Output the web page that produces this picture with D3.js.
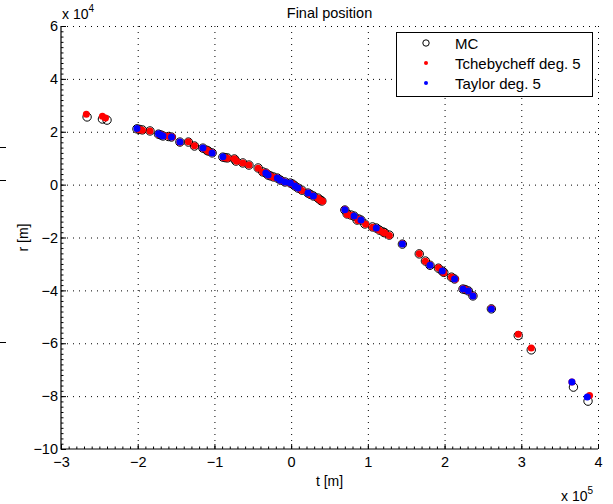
<!DOCTYPE html>
<html>
<head>
<meta charset="utf-8">
<script src="https://cdn.jsdelivr.net/npm/d3@7"></script>
<style>
	body { margin: 0; background: #fff; }
	svg text { font-family: "Liberation Sans", Arial, sans-serif; fill: #000; }
</style>
</head>
<body>
<div id="chart"></div>
<script>
"use strict";

// Final position scatter: MC samples vs polynomial approximations

var xTicks = [-3, -2, -1, 0, 1, 2, 3, 4];   // x 10^5
var yTicks = [-10, -8, -6, -4, -2, 0, 2, 4, 6]; // x 10^4

var seriesNames = ["MC", "Tchebycheff deg. 5", "Taylor deg. 5"];

// MC samples [m]
var mcT = [-266000, -246000, -240000, -201000, -198000, -194000, -184000, -173000, -170000, -167000, -160000, -156000,
	-145000, -134000, -126000, -115000, -110000, -108000, -103000, -89000, -86000, -83000, -74000, -72000, -63000,
	-55000, -43000, -37000, -33000, -30000, -27000, -23000, -18000, -14000, -8000, -1000, 2000, 5000, 9000, 14000,
	22000, 25000, 29000, 35000, 38000, 40000, 70000, 73000, 78000, 82000, 86000, 88000, 91000, 96000, 106000,
	111000, 115000, 120000, 122000, 128000, 145000, 167000, 175000, 181000, 192000, 197000, 199000, 209000, 213000,
	224000, 227000, 231000, 237000, 261000, 296000, 313000, 368000, 387000];
var mcR = [25600, 24800, 24400, 21100, 20900, 20700, 20300, 19100, 18800, 18400, 18200, 18000,
	16100, 16100, 14600, 13800, 13000, 12700, 12000, 10400, 10200, 10100, 9700, 8900, 8200,
	7400, 6300, 4800, 4400, 3600, 3300, 2900, 2500, 1700, 1000, 600, 200, -500, -1300, -2100,
	-3200, -3700, -4300, -5100, -5800, -6200, -9600, -11100, -11500, -11900, -13400, -13000, -13400, -14900, -16000,
	-16400, -17200, -17900, -18200, -19100, -22500, -26200, -28900, -30500, -31600, -32700, -33200, -35000, -35700,
	-39500, -39700, -40200, -42100, -47000, -57100, -62500, -76600, -81900];

// Tchebycheff deg. 5 [m]
var tchT = [-267000, -246000, -242000, -200000, -197000, -194000, -184000, -172000, -170000, -166000, -160000, -155000,
	-145000, -134000, -126000, -115000, -110000, -108000, -103000, -88000, -86000, -83000, -74000, -71000, -63000,
	-55000, -43000, -37000, -32000, -30000, -27000, -23000, -18000, -13000, -8000, -1000, 2000, 5000, 9000, 14000,
	22000, 25000, 29000, 35000, 38000, 41000, 70000, 73000, 78000, 82000, 87000, 88000, 91000, 97000, 106000,
	111000, 115000, 120000, 122000, 128000, 145000, 167000, 175000, 181000, 192000, 197000, 199000, 209000, 214000,
	224000, 227000, 231000, 237000, 261000, 296000, 313000, 366000, 389000];
var tchR = [26600, 25900, 25200, 21000, 20800, 20600, 20300, 19000, 18900, 18500, 18300, 18000,
	16000, 16200, 14700, 13800, 13100, 12600, 12100, 10300, 10200, 10000, 9800, 8800, 8200,
	7400, 6200, 4700, 4500, 3500, 3300, 2800, 2500, 1600, 1000, 500, 200, -500, -1300, -2200,
	-3200, -3800, -4300, -5200, -5900, -6300, -9400, -11300, -11600, -12000, -13600, -13100, -13500, -15000, -16100,
	-16500, -17300, -18000, -18300, -19200, -22400, -26100, -29000, -30400, -31400, -32700, -33300, -34900, -35800,
	-39400, -39700, -40200, -42000, -46900, -56600, -61800, -74700, -79800];

// Taylor deg. 5 [m]
var tayT = [-201000, -173000, -170000, -167000, -156000, -145000, -115000, -103000, -89000, -33000, -30000, -18000,
	-14000, -8000, -1000, 5000, 9000, 22000, 29000, 70000, 82000, 91000, 111000, 145000, 181000, 197000, 213000,
	224000, 231000, 237000, 261000, 366000, 386000];
var tayR = [21200, 19200, 18800, 18400, 18000, 16100, 13900, 12000, 10500, 4400, 3600, 2500,
	1700, 1000, 600, -500, -1300, -3200, -4300, -9500, -11900, -13400, -16400, -22500, -30500, -32700, -35700,
	-39500, -40200, -42100, -47000, -74700, -80300];

var width = 613, height = 504;
var margin = {left: 61, right: 15, top: 26, bottom: 55};

var svg = d3.select("#chart").append("svg")
	.attr("width", width)
	.attr("height", height);

var x = d3.scaleLinear().domain([-3e5, 4e5]).range([margin.left, width - margin.right]);
var y = d3.scaleLinear().domain([-1e5, 6e4]).range([height - margin.bottom, margin.top]);

var x0 = x.range()[0], x1 = x.range()[1];
var y0 = y.range()[0], y1 = y.range()[1];

// dotted grid
svg.append("g").selectAll("line").data(xTicks.slice(1)).join("line")
	.attr("x1", function(d) { return x(d * 1e5) + 0.5; })
	.attr("x2", function(d) { return x(d * 1e5) + 0.5; })
	.attr("y1", y1).attr("y2", y0)
	.style("stroke", "#000").style("stroke-width", 1).style("stroke-dasharray", "1,5");
svg.append("g").selectAll("line").data(yTicks.slice(1)).join("line")
	.attr("x1", x0).attr("x2", x1)
	.attr("y1", function(d) { return y(d * 1e4) + 0.5; })
	.attr("y2", function(d) { return y(d * 1e4) + 0.5; })
	.style("stroke", "#000").style("stroke-width", 1).style("stroke-dasharray", "1,5");

// axes, ticks pointing inward
var xAxis = d3.axisBottom(x).tickValues(xTicks.map(function(d) { return d * 1e5; }))
	.tickSize(-5).tickPadding(8)
	.tickFormat(function(d) { return d3.format("d")(d / 1e5).replace("-", "\u2212"); });
var yAxis = d3.axisLeft(y).tickValues(yTicks.map(function(d) { return d * 1e4; }))
	.tickSize(-5).tickPadding(3)
	.tickFormat(function(d) { return d3.format("d")(d / 1e4).replace("-", "\u2212"); });

var minorX = d3.range(-30, 41).map(function(d) { return d * 1e4; });
var minorY = d3.range(-50, 31).map(function(d) { return d * 2e3; });

svg.append("g").attr("transform", "translate(0," + y0 + ")")
	.call(d3.axisBottom(x).tickValues(minorX).tickSize(-2.5).tickFormat(""))
	.call(function(g) { g.select(".domain").remove(); });
svg.append("g").attr("transform", "translate(" + x0 + ",0)")
	.call(d3.axisLeft(y).tickValues(minorY).tickSize(-2.5).tickFormat(""))
	.call(function(g) { g.select(".domain").remove(); });

var gx = svg.append("g").attr("transform", "translate(0," + y0 + ")").call(xAxis);
var gy = svg.append("g").attr("transform", "translate(" + x0 + ",0)").call(yAxis);
[gx, gy].forEach(function(g) {
	g.select(".domain").attr("d", null);
	g.selectAll("text").style("font-size", "14.5px").style("font-family", "Liberation Sans, Arial, sans-serif");
});
svg.append("path")
	.attr("d", "M" + x0 + "," + y1 + "V" + y0 + "H" + x1)
	.style("fill", "none").style("stroke", "#000").style("stroke-width", 1.2);

// exponent labels
var ex = svg.append("text").attr("x", 62).attr("y", 19).style("font-size", "14px").text("x 10");
ex.append("tspan").attr("dy", -7).style("font-size", "10px").text("4");
var ex2 = svg.append("text").attr("x", 561).attr("y", 501).style("font-size", "14px").text("x 10");
ex2.append("tspan").attr("dy", -7).style("font-size", "10px").text("5");

// title and axis labels
svg.append("text").attr("x", (x0 + x1) / 2).attr("y", 18)
	.style("font-size", "14.5px").style("text-anchor", "middle").text("Final position");
svg.append("text").attr("x", (x0 + x1) / 2).attr("y", 486)
	.style("font-size", "14px").style("text-anchor", "middle").text("t [m]");
svg.append("text").attr("transform", "translate(28," + ((y0 + y1) / 2) + ") rotate(-90)")
	.style("font-size", "14px").style("text-anchor", "middle").text("r [m]");

// stray marks at the left edge
svg.append("g").selectAll("line").data([147, 180, 342]).join("line")
	.attr("x1", 0).attr("x2", 6).attr("y1", function(d) { return d + 0.5; }).attr("y2", function(d) { return d + 0.5; })
	.style("stroke", "#000").style("stroke-width", 1);

// points
svg.append("g").selectAll("circle").data(d3.zip(mcT, mcR)).join("circle")
	.attr("cx", function(d) { return x(d[0]); })
	.attr("cy", function(d) { return y(d[1]); })
	.attr("r", 4.2)
	.style("fill", "none").style("stroke", "#000").style("stroke-width", 1);
svg.append("g").selectAll("circle").data(d3.zip(tchT, tchR)).join("circle")
	.attr("cx", function(d) { return x(d[0]); })
	.attr("cy", function(d) { return y(d[1]); })
	.attr("r", 3.5)
	.style("fill", "#ff0000");
svg.append("g").selectAll("circle").data(d3.zip(tayT, tayR)).join("circle")
	.attr("cx", function(d) { return x(d[0]); })
	.attr("cy", function(d) { return y(d[1]); })
	.attr("r", 3.5)
	.style("fill", "#0000ff");

// legend
var lg = svg.append("g");
lg.append("rect").attr("x", 396.5).attr("y", 32.5).attr("width", 196).attr("height", 64)
	.style("fill", "#fff").style("stroke", "#000").style("stroke-width", 1);
var rows = lg.selectAll("g").data(seriesNames).join("g")
	.attr("transform", function(d, i) { return "translate(0," + (43 + i * 20) + ")"; });
rows.append("circle").attr("cx", 426).attr("cy", 0)
	.attr("r", function(d, i) { return i === 0 ? 3.2 : 2; })
	.style("fill", function(d, i) { return ["none", "#ff0000", "#0000ff"][i]; })
	.style("stroke", function(d, i) { return i === 0 ? "#000" : "none"; });
rows.append("text").attr("x", 455).attr("y", 5.5)
	.style("font-size", "15px").text(function(d) { return d; });
</script>
</body>
</html>
